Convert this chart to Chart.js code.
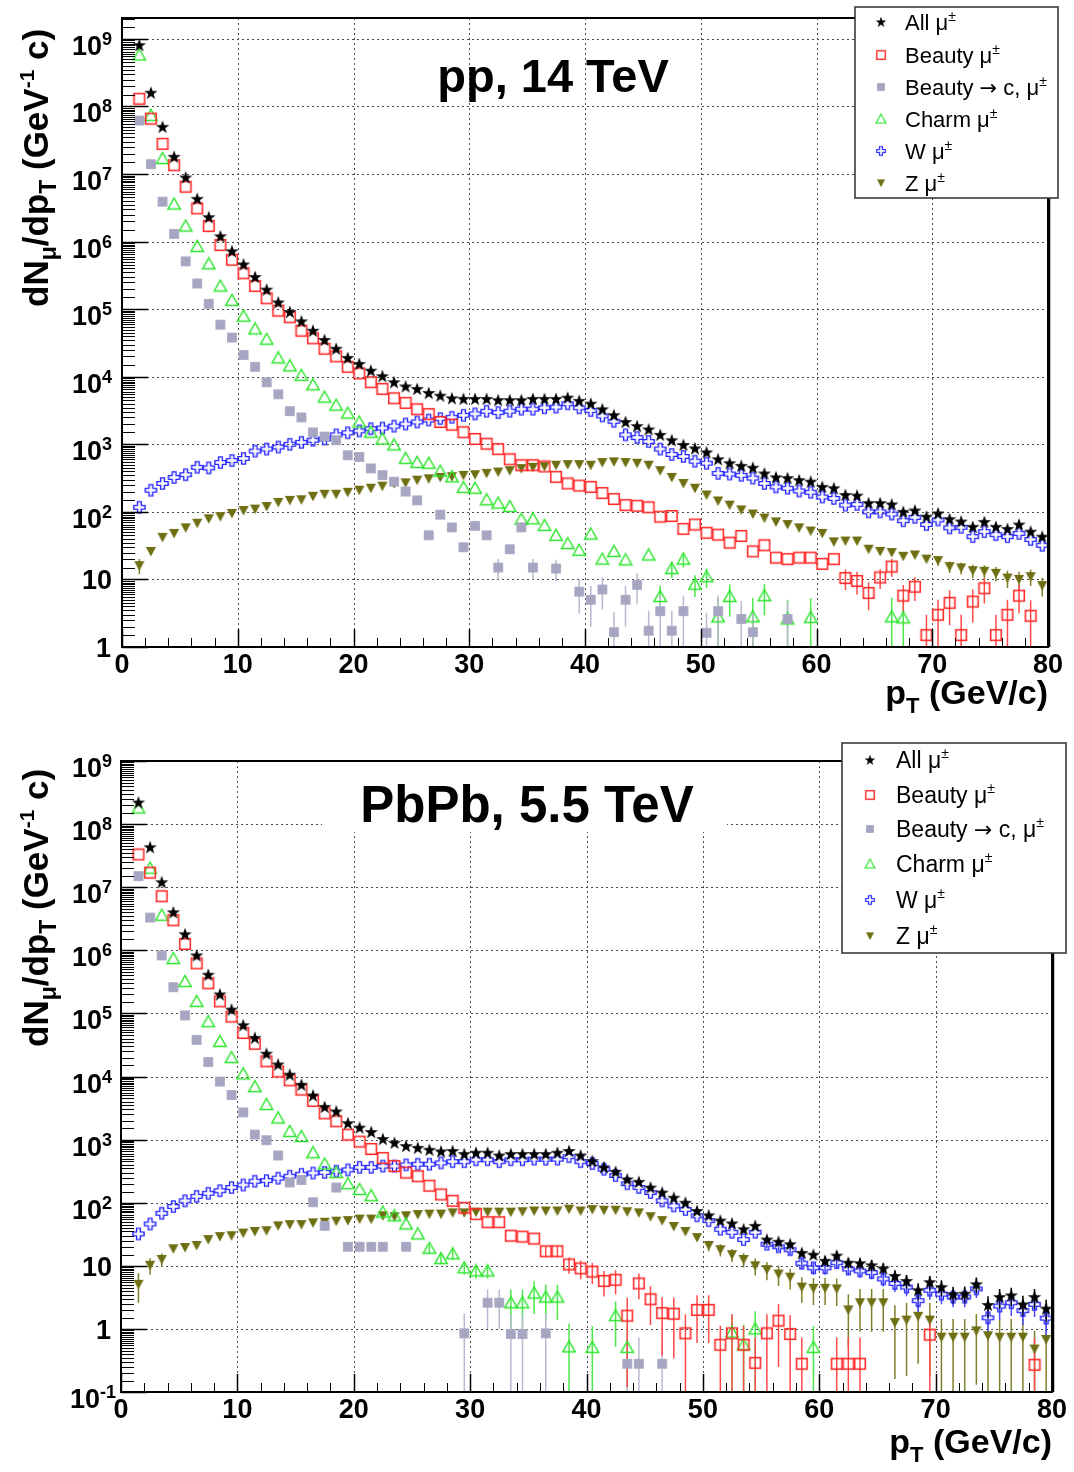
<!DOCTYPE html>
<html><head><meta charset="utf-8">
<script src="https://cdn.jsdelivr.net/npm/chart.js@4.4.1/dist/chart.umd.min.js"></script>
<style>
html,body{margin:0;padding:0;background:#fff;}
#wrap{position:relative;width:1074px;height:1472px;overflow:hidden;}
canvas{position:absolute;left:0;}
#c1{top:0;width:1074px;height:735px;}
#c2{top:735px;width:1074px;height:737px;}
</style></head><body>
<div id="wrap"><canvas id="c1" width="1074" height="735"></canvas><canvas id="c2" width="1074" height="737"></canvas></div>
<script>
// ---------- categories / ticks ----------
const ptBins = [1.5,2.5,3.5,4.5,5.5,6.5,7.5,8.5,9.5,
 10.5,11.5,12.5,13.5,14.5,15.5,16.5,17.5,18.5,19.5,
 20.5,21.5,22.5,23.5,24.5,25.5,26.5,27.5,28.5,29.5,
 30.5,31.5,32.5,33.5,34.5,35.5,36.5,37.5,38.5,39.5,
 40.5,41.5,42.5,43.5,44.5,45.5,46.5,47.5,48.5,49.5,
 50.5,51.5,52.5,53.5,54.5,55.5,56.5,57.5,58.5,59.5,
 60.5,61.5,62.5,63.5,64.5,65.5,66.5,67.5,68.5,69.5,
 70.5,71.5,72.5,73.5,74.5,75.5,76.5,77.5,78.5,79.5];
const xTickValues = [0,10,20,30,40,50,60,70,80];
const yTickExpsPP = [0,1,2,3,4,5,6,7,8,9];
const yTickExpsPbPb = [-1,0,1,2,3,4,5,6,7,8,9];
const legendLabels = ['All', 'Beauty', 'Beauty \u2192 c,', 'Charm', 'W', 'Z'];

// ---------- pp, 14 TeV ----------
const ppAll = [8.1e8,1.6e8,5.0e7,1.8e7,8.9e6,4.3e6,2.3e6,1.2e6,7.2e5,
 4.6e5,3.0e5,1.95e5,1.26e5,9.1e4,6.6e4,4.8e4,3.5e4,2.6e4,1.9e4,
 1.55e4,1.23e4,1.02e4,8300,7200,6600,5750,5250,4800,4700,
 4700,4700,4500,4500,4500,4700,4700,4700,4900,4400,
 4000,3300,2700,2140,1860,1660,1380,1150,980,870,
 760,600,525,480,450,370,325,316,295,280,
 234,224,178,174,135,135,129,100,105,85,
 95,78,72,60,71,60,56,65,51,43];
const ppBeauty = [1.3e8,6.6e7,2.8e7,1.35e7,6.5e6,3.1e6,1.7e6,8.9e5,5.4e5,
 3.4e5,2.2e5,1.45e5,9.5e4,7.6e4,4.8e4,3.7e4,2.6e4,2.0e4,1.4e4,
 1.12e4,8300,6600,4800,4100,3300,2800,2140,1950,1510,
 1200,1020,850,600,490,490,470,330,263,245,
 234,190,155,126,123,117,85,87,56,65,
 49,46,35,44,26,32,21,20,21,21,
 17,20,10.5,9.5,6.3,10.7,15.5,5.75,7.8,1.5,
 3.0,4.5,1.5,4.7,7.4,1.5,3.0,5.75,2.9,null];
const ppBeautyC = [6.2e7,1.4e7,3.9e6,1.3e6,5.1e5,2.4e5,1.2e5,5.9e4,3.8e4,
 2.1e4,1.4e4,8300,5500,3100,2500,1500,1300,1150,690,
 650,440,350,280,200,148,45,91,59,30,
 62,45,15,28,59,15,null,14.5,null,6.6,
 5.0,7.1,1.66,5.0,8.3,1.74,3.4,1.74,3.4,null,
 1.62,3.4,null,2.6,1.66,null,null,2.6,null,null,
 null,null,null,null,null,null,null,null,null,null,
 null,null,null,null,null,null,null,null,null,null];
const ppCharm = [5.8e8,7.4e7,1.7e7,3.6e6,1.7e6,8.5e5,4.7e5,2.2e5,1.35e5,
 7.9e4,5.1e4,3.6e4,1.9e4,1.45e4,1.05e4,7600,5000,3800,2900,
 2140,1510,1200,980,620,540,525,400,330,230,
 224,151,135,120,78,79,63,45,34,27,
 47,20,26,19.5,null,23,5.6,14.5,20,8.5,
 11,2.8,5.6,null,2.8,5.75,null,2.6,null,2.75,
 null,null,null,null,null,null,2.8,2.7,null,null,
 null,null,null,null,null,null,null,null,null,null];
const ppW = [117,209,263,324,355,457,447,537,575,
 617,794,851,912,1000,1070,1150,1200,1380,1480,
 1580,1700,1740,1860,2000,2140,2290,2400,2510,2690,
 2820,3090,2950,3090,3310,3310,3470,3550,3980,3470,
 3160,2630,2190,1380,1260,1100,851,708,661,562,
 525,372,363,347,316,263,234,224,204,195,
 166,158,126,129,100,100,93,74,83,65,
 76,58,59,43,51,46,43,48,39,32];
const ppZ = [16,26,42,48,58,68,79,85,95,
 105,110,120,138,148,151,170,182,182,195,
 209,224,240,263,269,295,309,324,331,347,
 355,372,389,407,437,457,468,490,501,501,
 490,537,550,537,525,490,407,324,263,224,
 178,145,126,107,93,81,71,65,58,52,
 48,36,37,37,28,26,25,22,23,20,
 19,15.5,14.8,13.5,13.2,12.3,10.5,10,11,8.1];
// error bars [pT, error]
const ppBeautyErr = [[62.5,3.5],[63.5,3.5],[64.5,2.8],[65.5,3.5],[66.5,4.5],[67.5,2.5],[68.5,3],[69.5,1.5],
 [70.5,2],[71.5,2.4],[72.5,1.5],[73.5,2.4],[74.5,3],[75.5,1.5],[76.5,2],[77.5,2.6],[78.5,2]];
const ppBeautyCErr = [[32.5,5],[35.5,5],[37.5,5],[39.5,3.5],[40.5,3],[41.5,3.5],[42.5,1.6],[43.5,3],[44.5,4],
 [45.5,1.7],[46.5,2.4],[47.5,1.7],[48.5,2.4],[50.5,1.6],[51.5,2.4],[53.5,2.2],[54.5,1.6],[57.5,2.2]];
const ppCharmErr = [[46.5,2.5],[47.5,4],[48.5,5],[49.5,3],[50.5,3.5],[51.5,2.5],[52.5,2.8],[54.5,2.5],
 [55.5,2.8],[57.5,2.4],[59.5,2.5],[66.5,2.6],[67.5,2.6]];
const ppZErr = [[1.5,4],[70.5,3],[71.5,3],[72.5,3],[73.5,3],[74.5,3],[75.5,3],[76.5,3],[77.5,3],[78.5,3],[79.5,2.5]];

// ---------- PbPb, 5.5 TeV ----------
const pbAll = [2.2e8,4.3e7,1.2e7,4.0e6,1.8e6,8.3e5,4.1e5,2.0e5,1.15e5,
 6.5e4,4.1e4,2.3e4,1.55e4,1.07e4,7400,5000,3300,2800,1820,
 1550,1320,1020,890,790,740,690,650,660,590,
 620,620,560,590,590,590,590,620,660,560,
 457,363,309,234,214,174,145,120,100,74,
 63,52,47,38,43,26,24,22,16,15,
 12,14.5,11.2,11,10.2,9.1,6.9,5.75,4.1,5.5,
 4.6,3.55,3.6,5.1,2.4,3.2,3.4,2.45,3.2,2.1];
const pbBeauty = [3.3e7,1.7e7,7.2e6,3.0e6,1.26e6,6.2e5,3.0e5,1.55e5,8.9e4,
 4.9e4,3.3e4,1.74e4,1.2e4,8700,6200,4100,2600,1950,1200,
 930,710,510,380,300,263,186,135,107,83,
 66,49,49,30,29,27,17,17,10.5,9.1,
 8.1,5.75,6.0,1.62,5.25,2.95,1.78,1.74,0.85,2.0,
 2.0,0.56,0.85,0.56,0.29,0.85,1.35,0.83,0.28,null,
 null,0.28,0.28,0.28,null,null,null,null,null,0.81,
 null,null,null,null,null,null,null,null,0.27,null];
const pbBeautyC = [1.5e7,3.3e6,8.3e5,2.6e5,9.3e4,3.8e4,1.7e4,8300,5100,
 2700,1200,980,560,209,229,102,43,174,20,
 20,20,20,null,20,null,null,null,null,0.85,
 null,2.6,2.6,0.83,0.83,null,0.85,null,null,null,
 null,null,null,0.28,0.28,null,0.28,null,null,null,
 null,null,null,null,null,null,null,null,null,null,
 null,null,null,null,null,null,null,null,null,null,
 null,null,null,null,null,null,null,null,null,null];
const pbCharm = [1.8e8,2.0e7,3.6e6,7.4e5,3.2e5,1.55e5,7.4e4,3.6e4,2.0e4,
 1.1e4,6900,3600,2200,1350,1120,620,410,300,200,
 162,129,71,62,46,32,19,13,15.5,9.3,
 8.3,8.3,null,2.6,2.6,3.7,3.2,3.2,0.52,null,
 0.51,null,1.62,0.51,null,null,null,null,null,null,
 null,null,0.89,0.56,1.0,null,null,null,null,0.51,
 null,null,null,null,null,null,null,null,null,null,
 null,null,null,null,null,null,null,null,null,null];
const pbW = [32,46,68,87,107,126,141,155,174,
 191,219,224,245,263,282,295,302,316,331,
 363,363,380,380,398,407,407,427,447,447,
 479,479,447,479,479,490,490,490,537,447,
 417,339,269,200,174,145,107,89,78,62,
 52,38,34,26,34,22,20,18,11,9.3,
 9.3,11.2,8.9,8.3,7.8,6.2,5.25,4.6,2.8,4.1,
 3.55,3.2,3.2,4.3,1.5,2.3,2.6,1.95,2.45,1.48];
const pbZ = [5.1,10.2,12.6,18.6,19.5,21,26,29,30,
 33,35,36,43,45,45,48,49,51,52,
 55,55,62,60,62,65,66,66,69,69,
 71,71,71,71,72,74,74,74,79,74,
 78,76,76,72,69,60,52,42,35,28,
 21,18,15,12.6,10,8.7,7.4,6.6,4.6,4.4,
 4.4,4.3,2.0,2.6,2.6,2.6,1.26,1.38,1.58,1.38,
 0.74,0.74,0.74,0.93,0.78,0.74,0.74,0.74,0.48,0.68];
const pbAllErr = [[60.5,2],[61.5,2.5],[62.5,2],[63.5,2],[64.5,2],[65.5,1.8],[66.5,1.5],[67.5,1.4],[68.5,1.2],[69.5,1.4],
 [70.5,1.3],[71.5,1.1],[72.5,1.1],[73.5,1.4],[74.5,0.9],[75.5,1.1],[76.5,1.1],[77.5,0.9],[78.5,1.1],[79.5,0.8]];
const pbBeautyErr = [[36.5,3.5],[37.5,3.5],[38.5,3],[39.5,3],[40.5,3],[41.5,2.5],[42.5,2.5],[43.5,1.5],[44.5,2.3],
 [45.5,1.8],[46.5,1.4],[47.5,1.4],[48.5,0.85],[49.5,1.4],[50.5,1.4],[51.5,0.56],[52.5,0.85],[53.5,0.56],[54.5,0.45],
 [55.5,0.85],[56.5,1.1],[57.5,0.83],[58.5,0.45],[61.5,0.45],[62.5,0.45],[63.5,0.45],[69.5,0.8],[78.5,0.45]];
const pbBeautyCErr = [[29.5,0.9],[31.5,1.6],[32.5,1.6],[33.5,0.85],[34.5,0.85],[36.5,0.85],[43.5,0.45],[44.5,0.45],[46.5,0.45]];
const pbCharmErr = [[26.5,3],[27.5,2.5],[28.5,3],[29.5,2],[30.5,2],[31.5,2],[33.5,1.6],[34.5,1.6],[35.5,2],[36.5,1.8],
 [37.5,1.8],[38.5,0.7],[40.5,0.6],[42.5,1.1],[43.5,0.6],[52.5,0.8],[53.5,0.6],[54.5,0.9],[59.5,0.6]];
const pbWErr = [[55.5,3],[56.5,3],[57.5,3],[58.5,2.2],[59.5,2],[60.5,2],[61.5,2.2],[62.5,1.8],[63.5,1.8],[64.5,1.7],
 [65.5,1.5],[66.5,1.4],[67.5,1.3],[68.5,1],[69.5,1.2],[70.5,1.1],[71.5,1],[72.5,1],[73.5,1.2],[74.5,0.8],
 [75.5,0.9],[76.5,1],[77.5,0.8],[78.5,0.9],[79.5,0.7]];
const pbZErr = [[1.5,2.5],[2.5,3],[3.5,3],[50.5,4],[51.5,4],[52.5,3.5],[53.5,3.2],[54.5,3],[55.5,2.8],[56.5,2.6],
 [57.5,2.4],[58.5,2],[59.5,2],[60.5,2],[61.5,2],[62.5,1.5],[63.5,1.7],[64.5,1.7],[65.5,1.7],[66.5,1.1],
 [67.5,1.2],[68.5,1.3],[69.5,1.2],[70.5,0.7],[71.5,0.7],[72.5,0.7],[73.5,0.8],[74.5,0.7],[75.5,0.7],
 [76.5,0.7],[77.5,0.7],[78.5,0.45],[79.5,0.6]];

// ---------- styling ----------
const FONT = "'Liberation Sans', Arial, Helvetica, sans-serif";
const RED='#ff2b2b', GRAY='#a6a6c2', GREEN='#2de52d', BLUE='#2424ff', OLIVE='#6e6e12';
const ERRCOL = ['#000000', '#ff4a4a', '#b9b9d2', '#4ae84a', '#4a4aff', '#80802a'];

function mk(w,h,fn){const c=document.createElement('canvas');c.width=w;c.height=h;const g=c.getContext('2d');fn(g,w/2,h/2);return c;}
const mStar = mk(16,16,(g,cx,cy)=>{g.beginPath();for(let i=0;i<10;i++){const r=i%2?2.8:7.0;const a=-Math.PI/2+i*Math.PI/5;g.lineTo(cx+r*Math.cos(a),cy+r*Math.sin(a)+0.5);}g.closePath();g.fillStyle='#000';g.fill();});
const mOpenSq = mk(14,14,(g,cx,cy)=>{g.strokeStyle=RED;g.lineWidth=1.6;g.strokeRect(cx-5.3,cy-5.3,10.6,10.6);});
const mFillSq = mk(12,12,(g,cx,cy)=>{g.fillStyle=GRAY;g.fillRect(cx-4.9,cy-4.9,9.8,9.8);});
const mOpenTri = mk(16,15,(g,cx,cy)=>{g.strokeStyle=GREEN;g.lineWidth=1.5;g.beginPath();g.moveTo(cx,cy-6);g.lineTo(cx+6.2,cy+5);g.lineTo(cx-6.2,cy+5);g.closePath();g.stroke();});
const mOpenCross = mk(15,15,(g,cx,cy)=>{const a=5.6,b=1.9;g.strokeStyle=BLUE;g.lineWidth=1.4;g.beginPath();
 const p=[[-b,-a],[b,-a],[b,-b],[a,-b],[a,b],[b,b],[b,a],[-b,a],[-b,b],[-a,b],[-a,-b],[-b,-b]];
 p.forEach((q,i)=>{i?g.lineTo(cx+q[0],cy+q[1]):g.moveTo(cx+q[0],cy+q[1]);});g.closePath();g.stroke();});
const mInvTri = mk(14,13,(g,cx,cy)=>{g.fillStyle=OLIVE;g.beginPath();g.moveTo(cx-5.1,cy-4.4);g.lineTo(cx+5.1,cy-4.4);g.lineTo(cx,cy+5);g.closePath();g.fill();});
const MARKERS = [mStar, mOpenSq, mFillSq, mOpenTri, mOpenCross, mInvTri];

function line(ctx,x1,y1,x2,y2){ctx.beginPath();ctx.moveTo(x1,y1);ctx.lineTo(x2,y2);ctx.stroke();}
// parts: [text, size, dy, family]
function rich(ctx, parts, x, y, align, weight){
  weight = weight || 'bold';
  const f = p => weight+' '+p[1]+'px '+(p[3]||FONT);
  const ws = parts.map(p=>{ctx.font=f(p);return ctx.measureText(p[0]).width;});
  const tot = ws.reduce((s,w)=>s+w,0);
  let cx = align==='right'? x-tot : align==='center'? x-tot/2 : x;
  ctx.textAlign='left'; ctx.textBaseline='alphabetic';
  parts.forEach((p,i)=>{ctx.font=f(p);ctx.fillText(p[0],cx,y+(p[2]||0));cx+=ws[i];});
}

function errSegments(vals, errs, floor){
  const out=[];
  errs.forEach(([pt,e])=>{
    const i=ptBins.indexOf(pt); const v=vals[i];
    if(v==null) return;
    const lo = (v-e) > floor ? v-e : floor*0.3;
    out.push({x:pt,y:lo},{x:pt,y:v+e},{x:pt,y:null});
  });
  return out;
}

function legendParts(lab, fs){
  const parts=[];
  const pieces = lab.split('\u2192');
  pieces.forEach((s,i)=>{
    if(i>0) parts.push(['\u2192',fs-1,0,"'DejaVu Sans', sans-serif"]);
    if(s) parts.push([s,fs]);
  });
  parts.push([' \u03bc',fs]);
  parts.push(['\u00b1',Math.round(fs*0.62),-Math.round(fs*0.42)]);
  return parts;
}

function panelPlugin(P){
 return {
  id:'panel_'+P.id,
  beforeDatasetsDraw(chart){
    const ctx=chart.ctx, a=chart.chartArea, xs=chart.scales.x, ys=chart.scales.y;
    ctx.save();
    ctx.strokeStyle='#4a4a4a'; ctx.lineWidth=1; ctx.setLineDash([2,3]);
    xTickValues.slice(1,-1).forEach(v=>{const px=Math.round(xs.getPixelForValue(v))+0.5; line(ctx,px,a.top,px,a.bottom);});
    P.gridExps.forEach(e=>{const py=Math.round(ys.getPixelForValue(Math.pow(10,e)))+0.5; line(ctx,a.left,py,a.right,py);});
    ctx.setLineDash([]);
    if(P.titleBox){ctx.fillStyle='#fff';ctx.fillRect(P.titleBox[0],P.titleBox[1],P.titleBox[2],P.titleBox[3]);}
    ctx.restore();
  },
  afterDatasetsDraw(chart){
    const ctx=chart.ctx, a=chart.chartArea, xs=chart.scales.x, ys=chart.scales.y;
    ctx.save();
    ctx.strokeStyle='#000';
    const e0=P.yExps[0], e1=P.yExps[P.yExps.length-1];
    for(let e=e0;e<=e1;e++){
      for(let k=1;k<10;k+=0.5){
        const v=k*Math.pow(10,e); if(v<ys.min*0.999||v>ys.max*1.001) continue;
        const py=Math.round(ys.getPixelForValue(v))+0.5;
        ctx.lineWidth = k===1?1.5:1;
        line(ctx,a.left,py,a.left+(k===1?26:13),py);
      }
    }
    for(let v=0;v<=80;v+=2){const px=Math.round(xs.getPixelForValue(v))+0.5;const big=v%10===0;ctx.lineWidth=big?1.5:1;line(ctx,px,a.bottom,px,a.bottom-(big?18:9));}
    ctx.lineWidth=2; ctx.strokeRect(a.left,a.top,a.right-a.left,a.bottom-a.top);
    ctx.lineWidth=1.5; line(ctx,a.right+1.5,a.top,a.right+1.5,a.bottom);
    // tick labels
    ctx.fillStyle='#000';
    P.yExps.forEach(e=>{
      const py=ys.getPixelForValue(Math.pow(10,e));
      if(e===0) rich(ctx,[['1',27]],111,py+10,'right');
      else if(e===1) rich(ctx,[['10',27]],112,py+10,'right');
      else rich(ctx,[['10',27],[String(e),18,-10]], e<0?116:112, py+16,'right');
    });
    xTickValues.forEach(v=>rich(ctx,[[String(v),27]],xs.getPixelForValue(v),P.xLabelBase,'center'));
    // axis titles
    rich(ctx,[['p',34],['T',22,9],[' (GeV/c)',34]],P.xTitleRight,P.xTitleBase,'right');
    ctx.save(); ctx.translate(P.yTitleBase,P.yTitleStart); ctx.rotate(-Math.PI/2);
    rich(ctx,[['dN',35],['\u03bc',23,8],['/dp',35],['T',23,8],[' (GeV',35],['-1',21,-14],[' c)',35]],0,0,'left');
    ctx.restore();
    // title
    rich(ctx,[[P.title,P.titleSize]],P.titleX,P.titleBase,'center');
    // legend
    const L=P.legend;
    ctx.fillStyle='#fff'; ctx.fillRect(L.x,L.y,L.w,L.h);
    ctx.strokeStyle='#3a3a3a'; ctx.lineWidth=1.6; ctx.strokeRect(L.x,L.y,L.w,L.h);
    legendLabels.forEach((lab,i)=>{
      const m=MARKERS[i], s=0.8;
      ctx.drawImage(m,L.mx-m.width*s/2,L.rowY[i]-m.height*s/2,m.width*s,m.height*s);
      ctx.fillStyle='#000';
      rich(ctx,legendParts(lab,L.fs),L.tx,L.rowY[i]+Math.round(L.fs*0.36),'left','normal');
    });
    ctx.restore();
  }
 };
}

function makeChart(canvas, P, seriesVals, seriesErrs, floor){
  const datasets=[];
  seriesVals.forEach((vals,i)=>{
    datasets.push({type:'scatter',label:legendLabels[i],data:ptBins.map((b,j)=>({x:b,y:vals[j]})),
      pointStyle:MARKERS[i],pointRadius:5,pointHoverRadius:5,showLine:false});
  });
  seriesErrs.forEach((errs,i)=>{
    if(!errs) return;
    datasets.push({type:'line',label:legendLabels[i]+' err',data:errSegments(seriesVals[i],errs,floor),
      borderColor:ERRCOL[i],borderWidth:1.5,pointRadius:0,showLine:true,spanGaps:false,fill:false,tension:0});
  });
  return new Chart(canvas,{
    type:'scatter',
    data:{datasets},
    options:{
      responsive:false, animation:false, devicePixelRatio:1, events:[],
      layout:{padding:P.padding},
      scales:{
        x:{type:'linear',min:0,max:80,display:false},
        y:{type:'logarithmic',min:P.ymin,max:P.ymax,display:false}
      },
      plugins:{legend:{display:false},tooltip:{enabled:false}}
    },
    plugins:[panelPlugin(P)]
  });
}

const PP = {id:'pp', padding:{left:122,right:26,top:18,bottom:88}, ymin:1, ymax:2.04e9,
  gridExps:[1,2,3,4,5,6,7,8,9], yExps:yTickExpsPP,
  title:'pp, 14 TeV', titleSize:47, titleX:553, titleBase:92, titleBox:null,
  xLabelBase:673, xTitleRight:1048, xTitleBase:704, yTitleStart:307, yTitleBase:48,
  legend:{x:855,y:7,w:203,h:191,rowY:[22,55,87,119,151,183],mx:881,tx:905,fs:22}};
const PB = {id:'pbpb', padding:{left:121,right:22,top:26,bottom:80}, ymin:0.1, ymax:1e9,
  gridExps:[0,1,2,3,4,5,6,7,8], yExps:yTickExpsPbPb,
  title:'PbPb, 5.5 TeV', titleSize:51, titleX:527, titleBase:87, titleBox:[322,27,405,70],
  xLabelBase:683, xTitleRight:1052, xTitleBase:718, yTitleStart:312, yTitleBase:48,
  legend:{x:842,y:8,w:224,h:210,rowY:[25,60,94,129,165,201],mx:870,tx:896,fs:23}};

makeChart(document.getElementById('c1'), PP,
  [ppAll,ppBeauty,ppBeautyC,ppCharm,ppW,ppZ],
  [null,ppBeautyErr,ppBeautyCErr,ppCharmErr,null,ppZErr], 1);
makeChart(document.getElementById('c2'), PB,
  [pbAll,pbBeauty,pbBeautyC,pbCharm,pbW,pbZ],
  [pbAllErr,pbBeautyErr,pbBeautyCErr,pbCharmErr,pbWErr,pbZErr], 0.1);
</script>
</body></html>
